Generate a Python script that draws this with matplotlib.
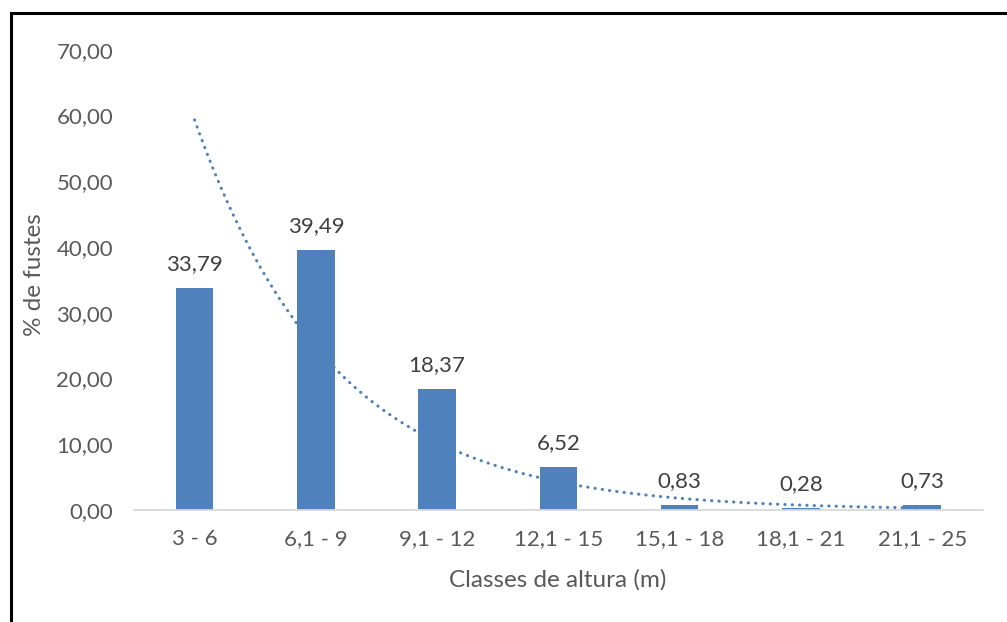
import numpy as np
import matplotlib.pyplot as plt
from matplotlib.lines import Line2D

# --- Dados: distribuição de fustes por classe de altura ---
classes = ["3 - 6", "6,1 - 9", "9,1 - 12", "12,1 - 15", "15,1 - 18", "18,1 - 21", "21,1 - 25"]
pct_fustes = [33.79, 39.49, 18.37, 6.52, 0.83, 0.28, 0.73]
y_ticks = [0, 10, 20, 30, 40, 50, 60, 70]

blue = "#4F81BD"
grey = "#595959"

plt.rcParams['font.family'] = ['Lato', 'DejaVu Sans']

fig = plt.figure(figsize=(10.07, 6.22), dpi=100)
ax = fig.add_axes([0.133, 0.180, 0.843, 0.740])

x = np.arange(1, len(classes) + 1)
ax.bar(x, pct_fustes, width=0.31, color=blue, zorder=2)

# rótulos de valor (vírgula decimal)
for xi, v in zip(x, pct_fustes):
    ax.annotate(f"{v:.2f}".replace(".", ","), (xi, v), xytext=(0, 10),
                textcoords="offset points", ha="center", va="bottom",
                fontsize=16, color="#404040")

# --- Linha de tendência exponencial (ajuste em log) ---
b, a = np.polyfit(x, np.log(pct_fustes), 1)
xt = np.linspace(1, len(classes), 300)
ax.plot(xt, np.exp(a + b * xt), linestyle=(0, (0.1, 2.3)), color=blue,
        linewidth=2.2, dash_capstyle="round", zorder=3)

ax.set_xlim(0.5, len(classes) + 0.5)
ax.set_ylim(0, 70)
ax.set_yticks(y_ticks)
ax.set_yticklabels([f"{t:.2f}".replace(".", ",") for t in y_ticks])
ax.set_xticks(x)
ax.set_xticklabels(classes)
ax.tick_params(axis="both", length=0, labelsize=16, labelcolor=grey)
ax.tick_params(axis="y", pad=15)
ax.tick_params(axis="x", pad=14)

for side in ["top", "right", "left"]:
    ax.spines[side].set_visible(False)
ax.spines["bottom"].set_color("#D9D9D9")
ax.spines["bottom"].set_linewidth(1.3)

ax.set_xlabel("Classes de altura (m)", fontsize=17.5, color=grey)
ax.set_ylabel("% de fustes", fontsize=17.5, color=grey)
ax.xaxis.set_label_coords(0.499, -0.152)
ax.yaxis.set_label_coords(-0.1166, 0.511)
ax.yaxis.label.set_verticalalignment("center")
ax.xaxis.label.set_verticalalignment("center")

# moldura (esquerda e topo)
fig.add_artist(Line2D([11 / 1007, 11 / 1007], [0, 1 - 13 / 622], color="black", linewidth=2.2))
fig.add_artist(Line2D([11 / 1007, 1], [1 - 13 / 622, 1 - 13 / 622], color="black", linewidth=2.2))

fig.savefig("out.png", dpi=100, facecolor="white")
